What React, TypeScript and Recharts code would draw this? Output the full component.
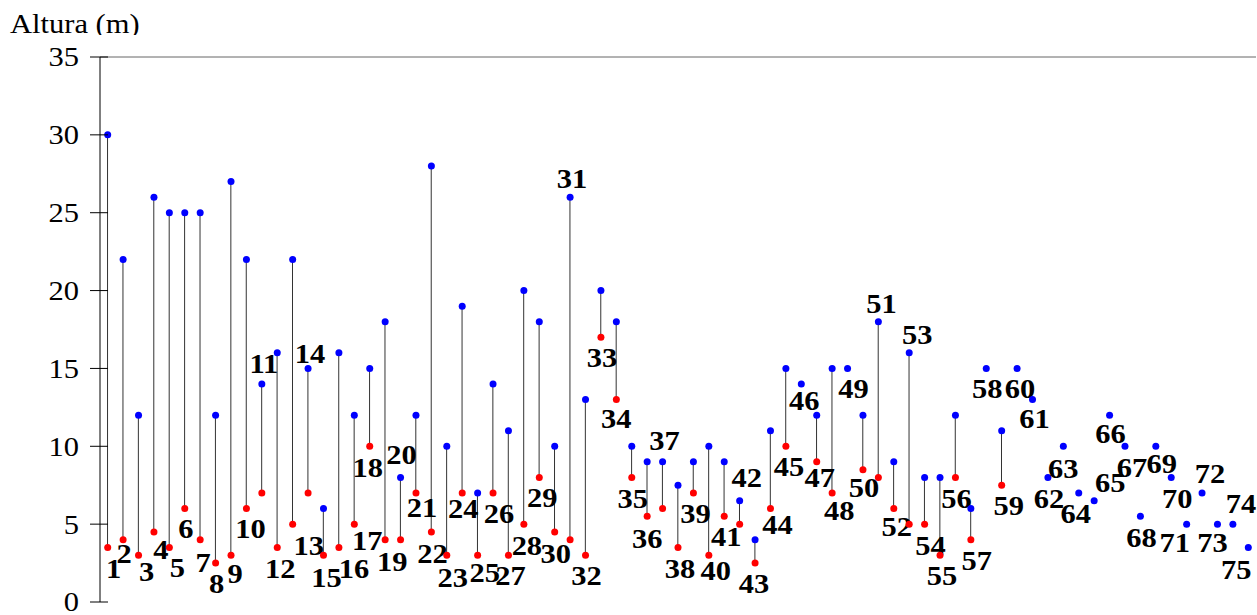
import React from 'react';
import { ComposedChart, Bar, Line, XAxis, YAxis, ReferenceLine } from 'recharts';

// Árvores numeradas 1..75
const trees = [
  1, 2, 3, 4, 5, 6, 7, 8, 9, 10, 11, 12, 13, 14, 15, 16, 17, 18, 19, 20,
  21, 22, 23, 24, 25, 26, 27, 28, 29, 30, 31, 32, 33, 34, 35, 36, 37, 38, 39, 40,
  41, 42, 43, 44, 45, 46, 47, 48, 49, 50, 51, 52, 53, 54, 55, 56, 57, 58, 59, 60,
  61, 62, 63, 64, 65, 66, 67, 68, 69, 70, 71, 72, 73, 74, 75,
];

// Altura total (m) - pontos azuis
const alturaTotal = [
  30, 22, 12, 26, 25, 25, 25, 12, 27, 22, 14, 16, 22, 15, 6, 16, 12, 15, 18, 8,
  12, 28, 10, 19, 7, 14, 11, 20, 18, 10, 26, 13, 20, 18, 10, 9, 9, 7.5, 9, 10,
  9, 6.5, 4, 11, 15, 14, 12, 15, 15, 12, 18, 9, 16, 8, 8, 12, 6, 15, 11, 15,
  13, 8, 10, 7, 6.5, 12, 10, 5.5, 10, 8, 5, 7, 5, 5, 3.5,
];

// Altura da base da copa (m) - pontos vermelhos (null = sem medição)
const alturaCopa: (number | null)[] = [
  3.5, 4, 3, 4.5, 3.5, 6, 4, 2.5, 3, 6, 7, 3.5, 5, 7, 3, 3.5, 5, 10, 4, 4,
  7, 4.5, 3, 7, 3, 7, 3, 5, 8, 4.5, 4, 3, 17, 13, 8, 5.5, 6, 3.5, 7, 3,
  5.5, 5, 2.5, 6, 10, null, 9, 7, null, 8.5, 8, 6, 5, 5, 3, 8, 4, null, 7.5, null,
  null, null, null, null, null, null, null, null, null, null, null, null, null, null, null,
];

const yTicks = [0, 5, 10, 15, 20, 25, 30, 35];

// posição do número de cada árvore: 't' = junto ao ponto azul, 'b' = junto ao ponto mais baixo
const labelPlace: [string, number, number][] = [
  ['b', 6, 30], ['b', 1, 23], ['b', 8, 26], ['b', 7, 27], ['b', 8, 29],
  ['b', 1, 29], ['b', 3, 32], ['b', 1, 30], ['b', 4, 28], ['b', 4, 29],
  ['t', 2, -11], ['b', 3, 30], ['b', 16, 31], ['t', 2, -5], ['b', 3, 32],
  ['b', 15, 30], ['b', 13, 26], ['b', -2, 31], ['b', 7, 31], ['t', 1, -13],
  ['b', 6, 24], ['b', 1, 31], ['b', 6, 32], ['b', 1, 25], ['b', 7, 27],
  ['b', 6, 30], ['b', 2, 30], ['b', 3, 31], ['b', 3, 30], ['b', 1, 31],
  ['t', 2, -9], ['b', 1, 30], ['b', 1, 30], ['b', 0, 28], ['b', 1, 31],
  ['b', 0, 32], ['t', 2, -12], ['b', 2, 30], ['b', 2, 30], ['b', 7, 25],
  ['b', 2, 30], ['t', 7, -14], ['b', -1, 30], ['b', 7, 25], ['b', 3, 30],
  ['b', 3, 26], ['b', 3, 25], ['b', 7, 27], ['b', 6, 30], ['b', 1, 27],
  ['t', 3, -9], ['b', 3, 27], ['t', 8, -9], ['b', 6, 31], ['b', 2, 30],
  ['b', 1, 31], ['b', 6, 30], ['b', 1, 30], ['b', 7, 30], ['b', 3, 30],
  ['b', 2, 28], ['b', 1, 31], ['b', 0, 32], ['b', -3, 30], ['t', 16, -9],
  ['b', 1, 28], ['b', 7, 31], ['b', 1, 31], ['b', 6, 27], ['b', 6, 31],
  ['b', -12, 28], ['t', 8, -10], ['b', -5, 28], ['t', 8, -11], ['b', -12, 31],
];

const data = trees.map((t, i) => ({
  tree: t,
  total: alturaTotal[i],
  base: alturaCopa[i],
  stem: alturaCopa[i] == null ? null : [alturaCopa[i], alturaTotal[i]],
}));

const SERIF = "'Liberation Serif', 'Times New Roman', Tinos, serif";
const STRETCH = 1.13;
const textStyle = { fontFamily: SERIF, fontSize: 27 };

const TreeLabel = ({ x, y, n }: { x: number; y: number; n: number }) => (
  <text
    transform={`translate(${x},${y}) scale(${STRETCH},1)`}
    textAnchor="middle"
    style={{ ...textStyle, fontWeight: 700 }}
    fill="#000"
  >
    {n}
  </text>
);

const makeDot = (color: string, which: 'top' | 'base') => (props: any) => {
  const { cx, cy, payload, index } = props;
  const key = `${which}-${index}`;
  const v = which === 'top' ? payload.total : payload.base;
  if (v == null || cx == null || cy == null) return <g key={key} />;
  const [anchor, dx, dy] = labelPlace[index];
  const showLabel =
    which === 'top' ? anchor === 't' || payload.base == null : anchor === 'b';
  return (
    <g key={key}>
      <circle cx={cx} cy={cy} r={3.5} fill={color} stroke="none" />
      {showLabel && <TreeLabel x={cx + dx} y={cy + dy} n={payload.tree} />}
    </g>
  );
};

// linha vertical entre a base da copa e o topo
const Stem = (props: any) => {
  const { x, y, width, height } = props;
  if (x == null || y == null || height == null) return null;
  const cx = x + width / 2;
  const top = Math.min(y, y + height);
  const bottom = Math.max(y, y + height);
  return <line x1={cx} x2={cx} y1={top} y2={bottom} stroke="#333" strokeWidth={1} />;
};

const YTick = (props: any) => {
  const { x, y, payload } = props;
  return (
    <g>
      <line x1={x - 10} x2={x + 8} y1={y} y2={y} stroke="#000" strokeWidth={1} />
      <text
        transform={`translate(${x - 21},${y}) scale(${STRETCH},1)`}
        textAnchor="end"
        dy="0.35em"
        style={textStyle}
        fill="#000"
      >
        {payload.value}
      </text>
    </g>
  );
};

export default function App() {
  return (
    <div style={{ position: 'absolute', left: 0, top: 0, width: 1257, height: 615, background: '#fff' }}>
      <ComposedChart
        width={1257}
        height={615}
        data={data}
        margin={{ top: 57, right: 1, bottom: 13, left: 0 }}
      >
        <XAxis
          dataKey="tree"
          type="category"
          tick={false}
          tickLine={false}
          height={0}
          axisLine={{ stroke: '#555' }}
        />
        <YAxis
          domain={[0, 35]}
          ticks={yTicks}
          interval={0}
          width={100}
          tickSize={0}
          tickMargin={0}
          tickLine={false}
          axisLine={{ stroke: '#000' }}
          tick={YTick}
        />
        <YAxis
          yAxisId="r"
          orientation="right"
          domain={[0, 35]}
          width={0}
          tick={false}
          tickLine={false}
          axisLine={{ stroke: '#c4c4c4' }}
        />
        <ReferenceLine y={35} stroke="#666" />
        <Bar dataKey="stem" shape={Stem} isAnimationActive={false} />
        <Line
          dataKey="base"
          stroke="none"
          dot={makeDot('#ff0000', 'base')}
          activeDot={false}
          isAnimationActive={false}
        />
        <Line
          dataKey="total"
          stroke="none"
          dot={makeDot('#0000ff', 'top')}
          activeDot={false}
          isAnimationActive={false}
        />
      </ComposedChart>
      <svg
        width={200}
        height={35}
        style={{ position: 'absolute', left: 0, top: 0, pointerEvents: 'none' }}
      >
        <text transform={`translate(10,33) scale(${STRETCH},1)`} style={textStyle} fill="#000">
          Altura (m)
        </text>
      </svg>
    </div>
  );
}
